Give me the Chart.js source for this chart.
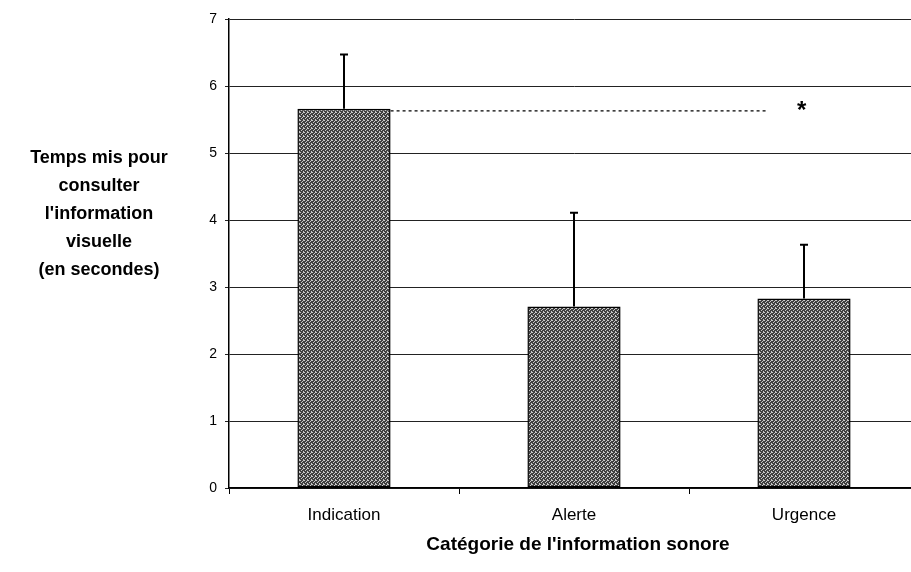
<!DOCTYPE html>
<html>
<head>
<meta charset="utf-8">
<script src="https://cdn.jsdelivr.net/npm/chart.js@4.4.1/dist/chart.umd.min.js"></script>
<style>
  html, body { margin: 0; padding: 0; background: #fff; overflow: hidden; }
  #wrap { position: absolute; left: 0; top: 0; width: 930px; height: 572px; }
</style>
</head>
<body>
<div id="wrap"><canvas id="chart" width="930" height="572"></canvas></div>
<script>
// données
const categories = ["Indication", "Alerte", "Urgence"];
const means = [5.66, 2.71, 2.83];
const errors = [0.81, 1.40, 0.80];
const yTicks = [0, 1, 2, 3, 4, 5, 6, 7];
const yLabelLines = ["Temps mis pour", "consulter", "l'information", "visuelle", "(en secondes)"];
const xTitle = "Catégorie de l'information sonore";
// comparaison significative : Indication vs le reste
const sigLevel = 5.63;
const sigEnd = 1.84;
const sigMark = "*";

const FONT = "'Liberation Sans', Arial, sans-serif";

// texture pointillée des barres (motif fixe)
function barPattern() {
    const c = document.createElement("canvas");
    c.width = 4;
    c.height = 4;
    const g = c.getContext("2d");
    g.fillStyle = "#404040";
    g.fillRect(0, 0, 4, 4);
    g.fillStyle = "#c8c8c8";
    [[0, 0], [2, 1], [1, 2], [3, 3], [3, 0]].forEach(([x, y]) => g.fillRect(x, y, 1, 1));
    return g.createPattern(c, "repeat");
}

const errorBars = {
    id: "errorBars",
    afterDatasetsDraw(chart) {
        const ctx = chart.ctx;
        const y = chart.scales.y;
        const meta = chart.getDatasetMeta(0);
        ctx.save();
        ctx.strokeStyle = "#000";
        ctx.lineWidth = 2;
        meta.data.forEach((bar, i) => {
            const top = y.getPixelForValue(means[i] + errors[i]);
            ctx.beginPath();
            ctx.moveTo(bar.x, bar.y);
            ctx.lineTo(bar.x, top);
            ctx.moveTo(bar.x - 4, top);
            ctx.lineTo(bar.x + 4, top);
            ctx.stroke();
        });

        // ligne pointillée + astérisque
        const x = chart.scales.x;
        const first = meta.data[0];
        const ly = y.getPixelForValue(sigLevel);
        ctx.lineWidth = 1.2;
        ctx.setLineDash([3, 3]);
        ctx.beginPath();
        ctx.moveTo(first.x + first.width / 2, ly);
        ctx.lineTo(x.getPixelForValue(sigEnd), ly);
        ctx.stroke();
        ctx.setLineDash([]);
        ctx.fillStyle = "#000";
        ctx.font = "bold 24px " + FONT;
        ctx.textAlign = "center";
        ctx.textBaseline = "middle";
        ctx.fillText(sigMark, x.getPixelForValue(1.99), y.getPixelForValue(5.62));
        ctx.restore();
    },
    afterDraw(chart) {
        const ctx = chart.ctx;
        const area = chart.chartArea;
        ctx.save();
        ctx.fillStyle = "#000";
        ctx.textAlign = "center";
        ctx.textBaseline = "middle";
        ctx.font = "bold 18px " + FONT;
        yLabelLines.forEach((line, i) => ctx.fillText(line, 99, 158 + i * 28));
        ctx.font = "bold 19px " + FONT;
        ctx.fillText(xTitle, (area.left + area.right) / 2 + 4, 545);
        ctx.restore();
    }
};

new Chart(document.getElementById("chart"), {
    type: "bar",
    data: {
        labels: categories,
        datasets: [{
            data: means,
            backgroundColor: barPattern(),
            borderColor: "#000",
            borderWidth: 1.5,
            borderSkipped: false,
            barPercentage: 0.405,
            categoryPercentage: 1,
        }],
    },
    options: {
        responsive: false,
        animation: false,
        events: [],
        layout: { padding: { top: 19, right: 11, left: 0, bottom: 0 } },
        plugins: {
            legend: { display: false },
            tooltip: { enabled: false },
        },
        scales: {
            x: {
                afterFit(scale) { scale.height = 84; },
                grid: {
                    offset: true,
                    drawOnChartArea: false,
                    drawTicks: true,
                    tickLength: 6,
                    color: "#000",
                },
                border: { color: "#000", width: 1.5 },
                ticks: {
                    color: "#000",
                    padding: 11,
                    font: { family: FONT, size: 17 },
                },
            },
            y: {
                min: 0,
                max: 7,
                afterFit(scale) { scale.width = 229; },
                afterBuildTicks(scale) { scale.ticks = yTicks.map((v) => ({ value: v })); },
                grid: {
                    color: "#222",
                    lineWidth: 1,
                    tickLength: 4,
                },
                border: { color: "#000", width: 1.5 },
                ticks: {
                    color: "#000",
                    padding: 8,
                    font: { family: FONT, size: 14 },
                },
            },
        },
    },
    plugins: [errorBars],
});
</script>
</body>
</html>
